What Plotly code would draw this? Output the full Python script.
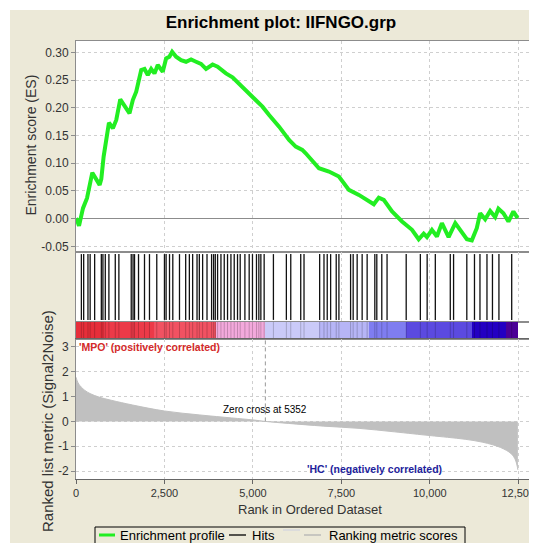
import plotly.graph_objects as go

# ---------------- data ----------------
es_ranks = [0, 29, 85, 198, 311, 367, 461, 668, 716, 781, 875, 931, 1043, 1138, 1251, 1372, 1513,
            1606, 1702, 1843, 1936, 2029, 2125, 2218, 2311, 2452, 2547, 2640, 2717, 2829, 2970,
            3111, 3252, 3393, 3534, 3675, 3861, 4002, 4238, 4424, 4706, 4988, 5270, 5458, 5740,
            6022, 6211, 6397, 6493, 6867, 7149, 7431, 7713, 7995, 8276, 8417, 8558, 8699, 8933,
            9215, 9497, 9686, 9827, 9919, 10060, 10201, 10342, 10531, 10720, 10906, 11047, 11188,
            11328, 11424, 11565, 11706, 11847, 11940, 12081, 12222, 12363, 12484]
es_values = [0.0, -0.002, -0.013, 0.019, 0.037, 0.052, 0.083, 0.061, 0.072, 0.112, 0.154, 0.173,
             0.163, 0.178, 0.215, 0.202, 0.190, 0.214, 0.229, 0.268, 0.270, 0.259, 0.270, 0.262,
             0.277, 0.265, 0.289, 0.292, 0.301, 0.292, 0.286, 0.283, 0.287, 0.283, 0.279, 0.270,
             0.278, 0.274, 0.262, 0.255, 0.238, 0.220, 0.202, 0.187, 0.166, 0.142, 0.130, 0.124,
             0.118, 0.091, 0.085, 0.076, 0.052, 0.043, 0.031, 0.026, 0.038, 0.034, 0.013, -0.005,
             -0.020, -0.037, -0.027, -0.033, -0.020, -0.032, -0.008, -0.033, -0.008, -0.025,
             -0.037, -0.039, -0.017, 0.010, -0.001, 0.014, 0.003, 0.018, 0.010, -0.005, 0.013, 0.001]

hit_ranks = [152, 217, 338, 400, 527, 716, 761, 828, 930, 1110, 1212, 1561, 1612, 1654, 1767,
             1936, 2077, 2283, 2500, 2547, 2643, 2736, 2925, 3100, 3204, 3297, 3421, 3486, 3579,
             3703, 3832, 3889, 3937, 4002, 4097, 4190, 4283, 4379, 4472, 4565, 4641, 4774, 4895,
             4988, 5101, 5168, 5225, 5318, 5580, 5946, 6070, 6352, 6445, 6887, 7009, 7101, 7197,
             7355, 7431, 7761, 7834, 7947, 8088, 8229, 8446, 8502, 8643, 8792, 9333, 9733, 9925,
             10156, 10579, 10672, 11046, 11263, 11418, 11616, 11771, 11954, 12315]

metric_ranks = [0, 30, 80, 150, 250, 400, 650, 1000, 1600, 2500, 3500, 4400, 5000, 5352, 6000,
                7000, 8000, 9000, 10000, 10500, 11000, 11500, 12000, 12300, 12420, 12470, 12490]
metric_values = [1.78, 1.65, 1.50, 1.38, 1.25, 1.12, 0.98, 0.85, 0.66, 0.42, 0.26, 0.14, 0.06,
                 0.0, -0.08, -0.19, -0.28, -0.42, -0.57, -0.64, -0.72, -0.84, -1.05, -1.30,
                 -1.55, -1.80, -1.95]

band_edges = [0, 800, 2200, 3950, 5352, 6870, 8280, 9320, 11180, 12140, 12490]
band_colors = ["#e62e3a", "#ec3a48", "#f15262", "#f3a9dc", "#cacaf8", "#b6b5f6",
               "#7f7df0", "#5b4ae0", "#2300c2", "#4a0096"]

zero_cross = 5352
x_ticks = [0, 2500, 5000, 7500, 10000, 12500]
x_tick_text = ["0", "2,500", "5,000", "7,500", "10,000", "12,500"]
es_ticks = [-0.05, 0.0, 0.05, 0.10, 0.15, 0.20, 0.25, 0.30]
es_tick_text = ["-0.05", "0.00", "0.05", "0.10", "0.15", "0.20", "0.25", "0.30"]
metric_ticks = [-2, -1, 0, 1, 2, 3]
metric_tick_text = ["-2", "-1", "0", "1", "2", "3"]
legend_names = ["Enrichment profile", "Hits", "Ranking metric scores"]

# ---------------- figure ----------------
BEIGE = "#ece9d8"
GRID = "#cfcfcf"
FONT = "Liberation Sans, Arial, sans-serif"
ES_GREEN = "#22ee22"
OFF = 8  # the page body margin shifts the figure by 8 px

# window pixel -> paper helpers (plot area in the window: x 76..537, y 41..479)
def px(x):
    return (x - 76) / 461

def py(y):
    return (479 - y) / 438

fig = go.Figure()

fig.add_trace(go.Scatter(x=es_ranks, y=es_values, mode="lines", name=legend_names[0],
                         line=dict(color=ES_GREEN, width=4), xaxis="x", yaxis="y"))

hx, hy, ox, oy = [], [], [], []
for r in hit_ranks:
    hx += [r, r, None]
    hy += [0.03, 0.97, None]
    ox += [r, r, None]
    oy += [0, 1, None]

fig.add_trace(go.Scatter(x=hx, y=hy, mode="lines", name=legend_names[1],
                         line=dict(color="#111111", width=1.3), xaxis="x2", yaxis="y2"))

band_mid = [(a + b) / 2 for a, b in zip(band_edges[:-1], band_edges[1:])]
band_w = [b - a for a, b in zip(band_edges[:-1], band_edges[1:])]
fig.add_trace(go.Bar(x=band_mid, y=[1] * len(band_mid), width=band_w,
                     marker=dict(color=band_colors, line=dict(width=0)),
                     hoverinfo="skip", xaxis="x3", yaxis="y3"))
fig.add_trace(go.Scatter(x=ox, y=oy, mode="lines",
                         line=dict(color="rgba(0,0,0,0.2)", width=1), xaxis="x3", yaxis="y3"))

fig.add_trace(go.Scatter(x=metric_ranks, y=metric_values, mode="lines", fill="tozeroy",
                         name=legend_names[2], fillcolor="#c0c0c0",
                         line=dict(color="#c0c0c0", width=1, shape="spline"),
                         xaxis="x4", yaxis="y4"))

d_es = [py(252), 1.0]
d_hits = [py(322), py(252)]
d_heat = [py(339), py(322)]
d_rank = [0.0, py(339)]

xcommon = dict(range=[0, 13030], tickvals=x_ticks, ticktext=x_tick_text, showgrid=True,
               gridcolor=GRID, griddash="3px,3px", gridwidth=1, zeroline=False, showline=True,
               mirror=True, linecolor="#8c8c8c", linewidth=1, automargin=False,
               ticklabeloverflow="allow")

W, H = 537, 543
fig.update_layout(
    template="none",
    width=W, height=H,
    margin=dict(l=76 - OFF, r=W - (537 - OFF), t=41 - OFF, b=H - (479 - OFF), pad=0,
                autoexpand=False),
    paper_bgcolor=BEIGE, plot_bgcolor="white",
    font=dict(family=FONT, size=12, color="#333333"),
    showlegend=False,
    title=dict(text="<b>Enrichment plot: IIFNGO.grp</b>", x=px(281), xref="paper",
               xanchor="center", y=1 - (22 - OFF) / H, yref="container", yanchor="middle",
               font=dict(size=17, color="black", family=FONT)),
    xaxis=dict(xcommon, domain=[0, 1], anchor="y", showticklabels=False, ticks=""),
    yaxis=dict(domain=d_es, anchor="x", range=[-0.060, 0.3204], tickvals=es_ticks,
               ticktext=es_tick_text, ticks="outside", ticklen=4, tickcolor="#8c8c8c",
               showgrid=True, gridcolor=GRID, griddash="3px,3px", zeroline=True,
               zerolinecolor="#8c8c8c", zerolinewidth=1, showline=True, mirror=True,
               linecolor="#8c8c8c", automargin=False, tickfont=dict(size=12, color="#333333")),
    xaxis2=dict(xcommon, domain=[0, 1], anchor="y2", showticklabels=False, ticks=""),
    yaxis2=dict(domain=d_hits, anchor="x2", range=[0, 1], showticklabels=False, showgrid=False,
                ticks="", zeroline=False, showline=True, mirror=True, linecolor="#8c8c8c",
                automargin=False),
    xaxis3=dict(xcommon, domain=[0, 1], anchor="y3", showticklabels=False, ticks="",
                showgrid=False),
    yaxis3=dict(domain=d_heat, anchor="x3", range=[0, 1], showticklabels=False, showgrid=False,
                ticks="", zeroline=False, showline=True, mirror=True, linecolor="#8c8c8c",
                automargin=False),
    xaxis4=dict(xcommon, domain=[0, 1], anchor="y4", showticklabels=True, ticks="outside",
                ticklen=4, tickcolor="#666666", linecolor="#666666",
                tickfont=dict(size=11, color="#333333")),
    yaxis4=dict(domain=d_rank, anchor="x4", range=[-2.32, 3.32], tickvals=metric_ticks,
                ticktext=metric_tick_text, ticks="outside", ticklen=4, tickcolor="#8c8c8c",
                showgrid=True, gridcolor=GRID, griddash="3px,3px", zeroline=False,
                showline=True, mirror=True, linecolor="#8c8c8c", automargin=False,
                tickfont=dict(size=12, color="#333333")),
    bargap=0,
)

# zero-cross marker
fig.add_shape(type="line", xref="x4", yref="y4", x0=zero_cross, x1=zero_cross, y0=0, y1=3.32,
              line=dict(color="#999999", width=1, dash="4px,3px"))

fig.add_annotation(x=zero_cross, y=0.47, xref="x4", yref="y4",
                   text="Zero cross at " + str(zero_cross), xanchor="center", yanchor="middle",
                   showarrow=False, font=dict(size=10, color="black", family=FONT))
fig.add_annotation(x=40, y=3.0, xref="x4", yref="y4", text="<b>'MPO' (positively correlated)</b>",
                   showarrow=False, xanchor="left", yanchor="middle",
                   font=dict(size=10.5, color="#d42a2a", family=FONT))
fig.add_annotation(x=10400, y=-1.9, xref="x4", yref="y4", text="<b>'HC' (negatively correlated)</b>",
                   showarrow=False, xanchor="right", yanchor="middle",
                   font=dict(size=10.5, color="#1e1e9c", family=FONT))

# axis titles
fig.add_annotation(x=px(30), y=py(145.5), xref="paper", yref="paper",
                   text="Enrichment score (ES)", textangle=-90, showarrow=False,
                   xanchor="center", yanchor="middle",
                   font=dict(size=14, color="#333333", family=FONT))
fig.add_annotation(x=px(47), y=py(421), xref="paper", yref="paper",
                   text="Ranked list metric (Signal2Noise)", textangle=-90, showarrow=False,
                   xanchor="center", yanchor="middle",
                   font=dict(size=15, color="#333333", family=FONT))
fig.add_annotation(x=px(310), y=py(509), xref="paper", yref="paper",
                   text="Rank in Ordered Dataset", showarrow=False,
                   xanchor="center", yanchor="middle",
                   font=dict(size=13, color="#333333", family=FONT))

# legend box (cut by the lower picture edge, as in the reference)
LY = 535
fig.add_shape(type="rect", xref="paper", yref="paper", x0=px(95), x1=px(465),
              y0=py(556), y1=py(527), fillcolor=BEIGE, line=dict(color="black", width=1))
fig.add_shape(type="line", xref="paper", yref="paper", x0=px(99), x1=px(115), y0=py(LY),
              y1=py(LY), line=dict(color=ES_GREEN, width=3))
fig.add_annotation(x=px(118), y=py(LY), xref="paper", yref="paper", text=legend_names[0],
                   showarrow=False, xanchor="left", yanchor="middle",
                   font=dict(size=13, color="black", family=FONT))
fig.add_shape(type="line", xref="paper", yref="paper", x0=px(229), x1=px(246), y0=py(LY),
              y1=py(LY), line=dict(color="black", width=1.3))
fig.add_annotation(x=px(250), y=py(LY), xref="paper", yref="paper", text=legend_names[1],
                   showarrow=False, xanchor="left", yanchor="middle",
                   font=dict(size=13, color="black", family=FONT))
fig.add_shape(type="line", xref="paper", yref="paper", x0=px(283), x1=px(300), y0=py(530),
              y1=py(530), line=dict(color="#dcdcdc", width=2))
fig.add_shape(type="line", xref="paper", yref="paper", x0=px(304), x1=px(321), y0=py(LY),
              y1=py(LY), line=dict(color="#b4b4b4", width=1.3))
fig.add_annotation(x=px(327), y=py(LY), xref="paper", yref="paper", text=legend_names[2],
                   showarrow=False, xanchor="left", yanchor="middle",
                   font=dict(size=13, color="black", family=FONT))

# white outer strips (top and left edges of the picture)
fig.add_shape(type="rect", xref="paper", yref="paper", x0=px(-20), x1=px(560),
              y0=py(10), y1=py(-20), fillcolor="white", line=dict(width=0), layer="below")
fig.add_shape(type="rect", xref="paper", yref="paper", x0=px(-20), x1=px(10),
              y0=py(560), y1=py(-20), fillcolor="white", line=dict(width=0), layer="below")

fig.write_html("out.html")
